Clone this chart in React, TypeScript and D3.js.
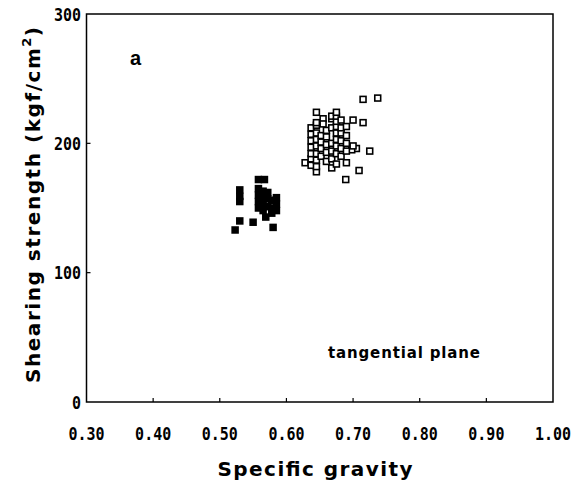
import React from "react";
import * as d3 from "d3";

const xTicks = [0.3, 0.4, 0.5, 0.6, 0.7, 0.8, 0.9, 1.0];
const yTicks = [0, 100, 200, 300];

// filled squares (darker samples)
const filledX = [0.523, 0.530, 0.550, 0.569, 0.580, 0.530, 0.530, 0.530, 0.558, 0.567, 0.558, 0.558, 0.558, 0.558, 0.565, 0.565, 0.565, 0.565, 0.572, 0.572, 0.572, 0.578, 0.578, 0.578, 0.585, 0.585, 0.585];
const filledY = [133, 140, 139, 143, 135, 155, 159, 164, 172, 172, 150, 155, 160, 165, 148, 153, 158, 163, 151, 157, 162, 146, 150, 156, 148, 153, 158];

// open squares
const openX = [0.715, 0.737, 0.715, 0.725, 0.705, 0.698, 0.689, 0.709, 0.668, 0.628,
  0.637, 0.637, 0.637, 0.637, 0.637, 0.637, 0.637,
  0.645, 0.645, 0.645, 0.645, 0.645, 0.645, 0.645, 0.645, 0.645, 0.645,
  0.652, 0.652, 0.652, 0.652,
  0.660, 0.660, 0.660, 0.660, 0.660,
  0.668, 0.668, 0.668, 0.668, 0.668, 0.668,
  0.675, 0.675, 0.675, 0.675, 0.675, 0.675, 0.675, 0.675, 0.675,
  0.682, 0.682, 0.682, 0.682, 0.682, 0.682,
  0.690, 0.690, 0.690, 0.690, 0.690,
  0.700, 0.700, 0.655, 0.655];
const openY = [234, 235, 216, 194, 196, 195, 172, 179, 181, 185,
  183, 188, 192, 197, 202, 207, 212,
  178, 182, 187, 192, 198, 203, 208, 214, 216, 224,
  190, 196, 201, 206,
  186, 193, 199, 205, 210,
  188, 194, 200, 212, 219, 221,
  184, 192, 198, 203, 208, 213, 217, 221, 224,
  190, 196, 202, 208, 212, 218,
  185, 194, 200, 206, 213,
  198, 218, 219, 215];

const W = 576, H = 484;
const L = 86.5, R = 553, T = 14, B = 402;

export default function App() {
  const x = d3.scaleLinear().domain([0.3, 1.0]).range([L, R]);
  const y = d3.scaleLinear().domain([0, 300]).range([B, T]);
  const s = 7.5;
  const mono = "'DejaVu Sans Mono', monospace";
  const sans = "'DejaVu Sans', sans-serif";
  return (
    <svg width={W} height={H} style={{ position: "absolute", left: 0, top: 0, background: "#fff" }}>
      <rect x={L} y={T} width={R - L} height={B - T} fill="none" stroke="#000" strokeWidth={1.5} />
      {xTicks.slice(1, -1).map((t) => (
        <line key={"xt" + t} x1={x(t)} x2={x(t)} y1={B} y2={B - 4} stroke="#000" strokeWidth={1.2} />
      ))}
      {yTicks.slice(1, -1).map((t) => (
        <line key={"yt" + t} x1={L} x2={L + 4} y1={y(t)} y2={y(t)} stroke="#000" strokeWidth={1.2} />
      ))}
      {xTicks.map((t) => (
        <g key={"xl" + t} transform={`translate(${x(t)},440) scale(1,1.2)`}>
          <text x={0} y={0} textAnchor="middle" fontFamily={mono} fontWeight="bold" fontSize={15} fill="#000">
            {d3.format(".2f")(t)}
          </text>
        </g>
      ))}
      {yTicks.map((t) => (
        <g key={"yl" + t} transform={`translate(81,${y(t) + 6.5}) scale(1,1.2)`}>
          <text x={0} y={0} textAnchor="end" fontFamily={mono} fontWeight="bold" fontSize={15} fill="#000">
            {String(t)}
          </text>
        </g>
      ))}
      {filledX.map((v, i) => (
        <rect key={"f" + i} x={x(v) - s / 2} y={y(filledY[i]) - s / 2} width={s} height={s} fill="#000" />
      ))}
      {openX.map((v, i) => (
        <rect key={"o" + i} x={x(v) - s / 2 + 0.8} y={y(openY[i]) - s / 2 + 0.8} width={s - 1.6} height={s - 1.6} fill="#fff" stroke="#000" strokeWidth={1.6} />
      ))}
      <text x={315} y={476} textAnchor="middle" fontFamily={sans} fontWeight="bold" fontSize={20} fill="#000" textLength={195} lengthAdjust="spacing">
        Specific gravity
      </text>
      <text transform={`translate(40,205) rotate(-90)`} textAnchor="middle" fontFamily={sans} fontWeight="bold" fontSize={20} fill="#000" textLength={356} lengthAdjust="spacing">
        Shearing strength (kgf/cm<tspan dy={-9} fontSize={13}>2</tspan><tspan dy={9}>)</tspan>
      </text>
      <text x={130} y={65} fontFamily="'Liberation Sans', Arial, sans-serif" fontWeight="bold" fontSize={20} fill="#000">a</text>
      <text x={328} y={358} fontFamily={sans} fontWeight="bold" fontSize={15} fill="#000" textLength={152} lengthAdjust="spacing">
        tangential plane
      </text>
    </svg>
  );
}
